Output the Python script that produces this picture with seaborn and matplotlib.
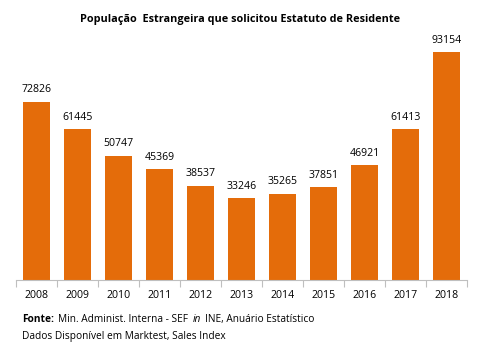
import matplotlib
matplotlib.use("Agg")
import matplotlib.pyplot as plt
import seaborn as sns
import pandas as pd
import numpy as np
from matplotlib.offsetbox import TextArea, HPacker, VPacker, AnchoredOffsetbox

years = ["2008", "2009", "2010", "2011", "2012", "2013", "2014", "2015", "2016", "2017", "2018"]
values = [72826, 61445, 50747, 45369, 38537, 33246, 35265, 37851, 46921, 61413, 93154]
title = "População  Estrangeira que solicitou Estatuto de Residente"

sns.set_theme(style="white")
plt.rcParams["font.family"] = ["Open Sans", "DejaVu Sans"]
plt.rcParams["text.color"] = "black"
plt.rcParams["xtick.color"] = "black"

df = pd.DataFrame({"year": years, "value": values})
fig = plt.figure(figsize=(4.8, 3.53), dpi=100)
ax = fig.add_axes([0.033, 0.207, 0.94, 0.694])
sns.barplot(data=df, x="year", y="value", color="#E46C0A", width=0.66,
            saturation=1, linewidth=0, ax=ax)
ax.set_ylim(0, 100000)
ax.set_xlim(-0.5, len(years) - 0.5)
for i, v in enumerate(values):
    ax.text(i, v + 2500, str(v), ha="center", va="bottom", fontsize=7.6, color="black")
ax.set_xlabel("")
ax.set_ylabel("")
ax.set_yticks([])
for s in ["top", "left", "right"]:
    ax.spines[s].set_visible(False)
ax.spines["bottom"].set_color("#BFBFBF")
ax.spines["bottom"].set_linewidth(0.8)
ax.set_xticks(range(len(years)))
ax.set_xticklabels(years, fontsize=7.6, color="black")
ax.tick_params(axis="x", which="major", length=0, pad=7)
ax.set_xticks(np.arange(-0.5, len(years), 1), minor=True)
ax.tick_params(axis="x", which="minor", length=5, color="#BFBFBF", width=0.8, bottom=True)

fig.text(0.5, 0.945, title, ha="center", va="center", fontsize=7.8,
         fontweight="bold", color="black")

fs = 7.3
line1 = HPacker(children=[
    TextArea("Fonte:", textprops=dict(fontsize=fs, fontweight="bold", color="black")),
    TextArea("Min. Administ. Interna - SEF", textprops=dict(fontsize=fs, color="black")),
    TextArea("in", textprops=dict(fontsize=fs, style="italic", color="black")),
    TextArea("INE, Anuário Estatístico", textprops=dict(fontsize=fs, color="black")),
], align="baseline", pad=0, sep=3)
line2 = TextArea("Dados Disponível em Marktest, Sales Index",
                 textprops=dict(fontsize=fs, color="black"))
box = VPacker(children=[line1, line2], align="left", pad=0, sep=4)
anch = AnchoredOffsetbox(loc="upper left", child=box, pad=0, frameon=False,
                         bbox_to_anchor=(22 / 480, 1 - 314 / 353),
                         bbox_transform=fig.transFigure, borderpad=0)
fig.add_artist(anch)

fig.savefig("out.png", dpi=100)
